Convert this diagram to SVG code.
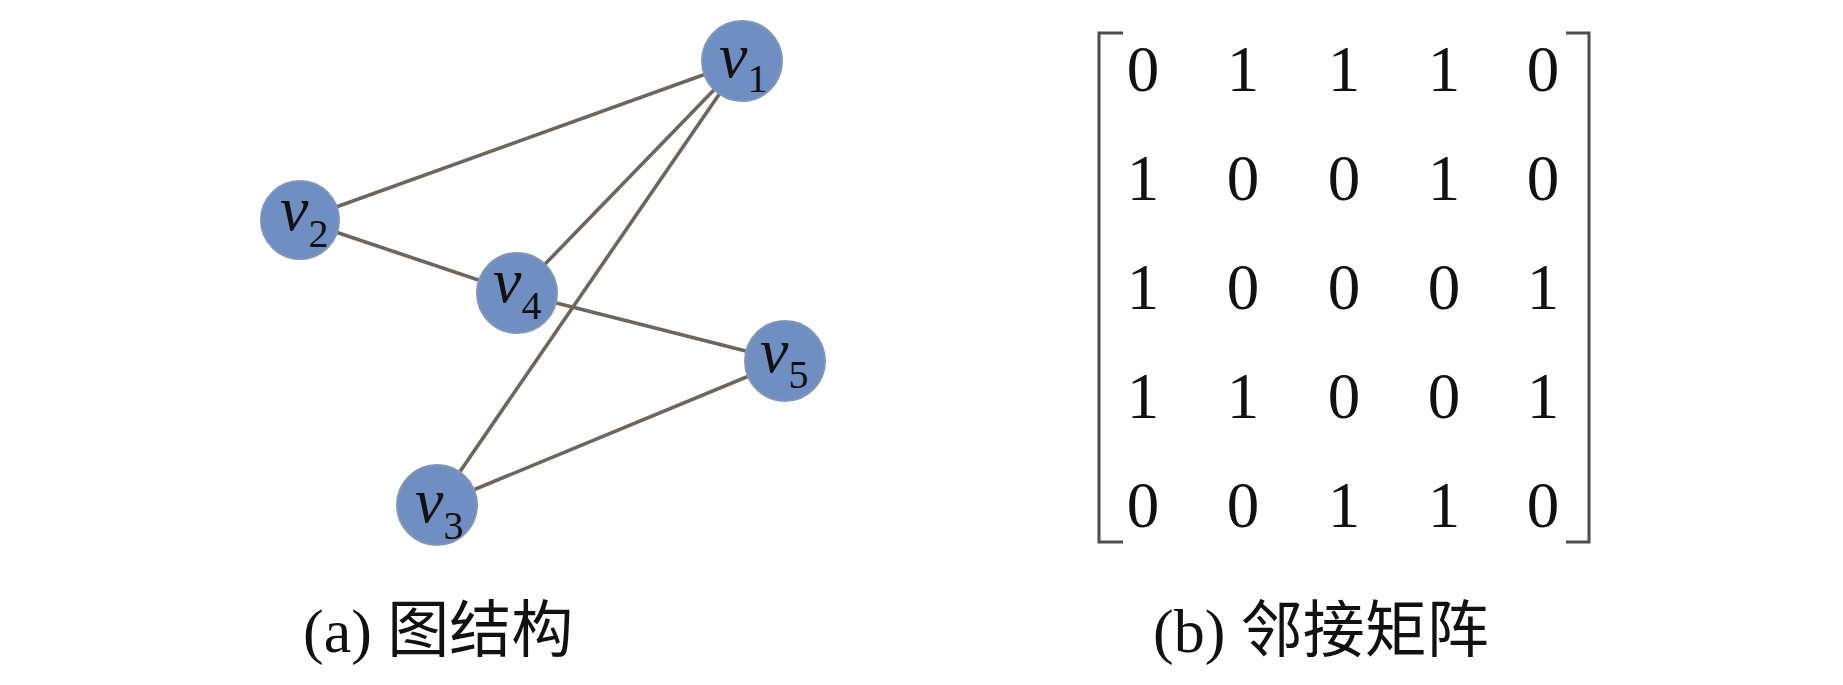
<svg xmlns="http://www.w3.org/2000/svg" width="1843" height="685" viewBox="0 0 1843 685">
<style>
.edge{stroke:#6e655d;stroke-width:3.6;fill:none;stroke-linecap:round}
.node{fill:#6f8fc3;stroke:#8196b6;stroke-width:2}
.lbl{font-family:"Liberation Serif","Times New Roman",serif;font-style:italic;font-size:64px;fill:#111}
.sub{font-style:normal;font-size:40px}
.num{font-family:"Liberation Serif","Times New Roman",serif;font-size:65px;fill:#111;text-anchor:middle}
.brk{stroke:#4f4c4a;stroke-width:3;fill:none}
.cap{font-family:"Liberation Serif","Noto Sans CJK SC",serif;font-size:62px;fill:#111}
</style>
<rect width="1843" height="685" fill="#fff"/>
<g id="edges">
<line class="edge" x1="300" y1="220" x2="742" y2="61"/>
<line class="edge" x1="300" y1="220" x2="517" y2="293"/>
<line class="edge" x1="517" y1="293" x2="742" y2="61"/>
<line class="edge" x1="517" y1="293" x2="785" y2="361"/>
<line class="edge" x1="742" y1="61" x2="437" y2="505"/>
<line class="edge" x1="437" y1="505" x2="785" y2="361"/>
</g>
<g id="v1"><circle class="node" cx="742" cy="61" r="40"/><text class="lbl" x="719" y="77">v<tspan class="sub" dy="15">1</tspan></text></g>
<g id="v2"><circle class="node" cx="300" cy="220" r="39"/><text class="lbl" x="280" y="230">v<tspan class="sub" dy="17">2</tspan></text></g>
<g id="v4"><circle class="node" cx="517" cy="293" r="40"/><text class="lbl" x="493" y="302">v<tspan class="sub" dy="17">4</tspan></text></g>
<g id="v5"><circle class="node" cx="785" cy="361" r="40"/><text class="lbl" x="760" y="372">v<tspan class="sub" dy="16">5</tspan></text></g>
<g id="v3"><circle class="node" cx="437" cy="505" r="40"/><text class="lbl" x="415" y="522">v<tspan class="sub" dy="17">3</tspan></text></g>
<g id="matrix">
<path class="brk" d="M1123,33 H1099 V542 H1123"/>
<path class="brk" d="M1566,33 H1589 V542 H1566"/>
<g class="num">
<text x="1143" y="91">0</text><text x="1243" y="91">1</text><text x="1344" y="91">1</text><text x="1444" y="91">1</text><text x="1543" y="91">0</text>
<text x="1143" y="200">1</text><text x="1243" y="200">0</text><text x="1344" y="200">0</text><text x="1444" y="200">1</text><text x="1543" y="200">0</text>
<text x="1143" y="309">1</text><text x="1243" y="309">0</text><text x="1344" y="309">0</text><text x="1444" y="309">0</text><text x="1543" y="309">1</text>
<text x="1143" y="418">1</text><text x="1243" y="418">1</text><text x="1344" y="418">0</text><text x="1444" y="418">0</text><text x="1543" y="418">1</text>
<text x="1143" y="527">0</text><text x="1243" y="527">0</text><text x="1344" y="527">1</text><text x="1444" y="527">1</text><text x="1543" y="527">0</text>
</g>
</g>
<text id="cap-a" class="cap" x="303" y="652">(a) 图结构</text>
<text id="cap-b" class="cap" x="1153" y="652">(b) 邻接矩阵</text>
</svg>
